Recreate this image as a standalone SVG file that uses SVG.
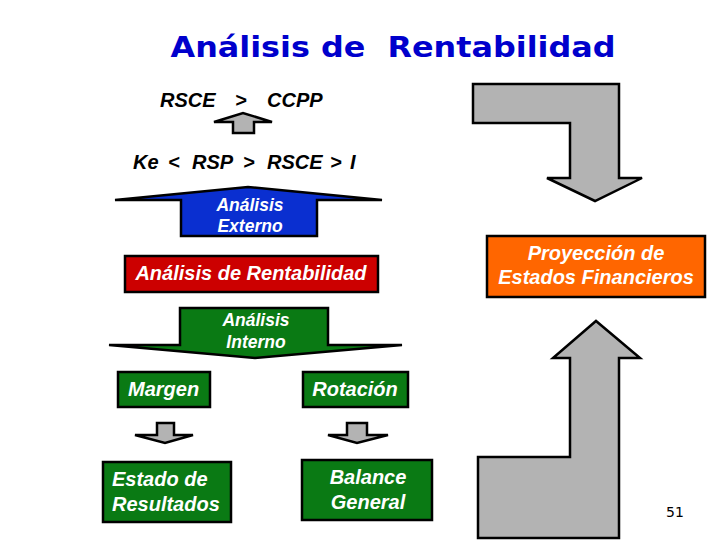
<svg xmlns="http://www.w3.org/2000/svg" width="728" height="546" viewBox="0 0 728 546">
<style>
.lbl{font-family:"Liberation Sans",Arial,sans-serif;font-weight:bold;font-style:italic;font-size:20px}
.sm{font-size:17.5px}
.w{fill:#ffffff}
.k{fill:#000000}
.box{stroke:#000;stroke-width:2.5}
.arr{stroke:#000;stroke-width:2.5;stroke-linejoin:miter}
</style>
<rect width="728" height="546" fill="#ffffff"/>
<text x="393" y="57" text-anchor="middle" font-family="'DejaVu Sans',Verdana,sans-serif" font-weight="bold" font-size="29" fill="#0000cc" textLength="445" lengthAdjust="spacingAndGlyphs" xml:space="preserve">Análisis de  Rentabilidad</text>

<g id="connectors">
  <path class="arr" fill="#b3b3b3" d="M233,133 L233,122 L214,122 L243,113 L272,122 L254,122 L254,133 Z"/>
  <path class="arr" fill="#b3b3b3" d="M157,423 L174,423 L174,435 L193,435 L165,443 L135,435 L157,435 Z"/>
  <path class="arr" fill="#b3b3b3" d="M347,423 L367,423 L367,435 L388,435 L357,443 L328,435 L347,435 Z"/>
  <path class="arr" fill="#b3b3b3" d="M473,84 L619,84 L619,178 L642,178 L595,201 L547,178 L570,178 L570,123 L473,123 Z"/>
  <path class="arr" fill="#b3b3b3" d="M478,538 L619,538 L619,358 L640,358 L596,321 L553,358 L570,358 L570,457 L478,457 Z"/>
</g>

<g id="rsce-ccpp">
  <text class="lbl k" y="107"><tspan x="160">RSCE</tspan><tspan x="235">&gt;</tspan><tspan x="267">CCPP</tspan></text>
</g>
<g id="ke-rsp">
  <text class="lbl k" y="169"><tspan x="133">Ke</tspan><tspan x="168">&lt;</tspan><tspan x="192">RSP</tspan><tspan x="243">&gt;</tspan><tspan x="267">RSCE</tspan><tspan x="330">&gt;</tspan><tspan x="350">I</tspan></text>
</g>

<g id="analisis-externo">
  <path class="arr" fill="#0a2fd0" d="M115,200 L248,187 L382,200 L317,200 L317,236 L181,236 L181,200 Z"/>
  <text class="lbl sm w" x="250" y="211" text-anchor="middle">Análisis</text>
  <text class="lbl sm w" x="250" y="232" text-anchor="middle">Externo</text>
</g>

<g id="analisis-rentabilidad">
  <rect class="box" x="125" y="256" width="253" height="36" fill="#cc0000"/>
  <text class="lbl w" x="251" y="280" text-anchor="middle">Análisis de Rentabilidad</text>
</g>

<g id="analisis-interno">
  <path class="arr" fill="#0a7a14" d="M180,308 L328,308 L328,345 L402,345 L255,358 L109,345 L180,345 Z"/>
  <text class="lbl sm w" x="256" y="326" text-anchor="middle">Análisis</text>
  <text class="lbl sm w" x="256" y="348" text-anchor="middle">Interno</text>
</g>

<g id="margen">
  <rect class="box" x="118" y="372" width="92" height="35" fill="#0a7a14"/>
  <text class="lbl w" x="128" y="396">Margen</text>
</g>
<g id="rotacion">
  <rect class="box" x="303" y="372" width="105" height="35" fill="#0a7a14"/>
  <text class="lbl w" x="355" y="396" text-anchor="middle">Rotación</text>
</g>

<g id="estado-resultados">
  <rect class="box" x="103" y="462" width="128" height="60" fill="#0a7a14"/>
  <text class="lbl w" x="112" y="486">Estado de</text>
  <text class="lbl w" x="112" y="511">Resultados</text>
</g>
<g id="balance-general">
  <rect class="box" x="302" y="460" width="130" height="60" fill="#0a7a14"/>
  <text class="lbl w" x="368" y="484" text-anchor="middle">Balance</text>
  <text class="lbl w" x="368" y="509" text-anchor="middle">General</text>
</g>

<g id="proyeccion">
  <rect class="box" x="487" y="236" width="218" height="61" fill="#ff6600"/>
  <text class="lbl w" x="596" y="260" text-anchor="middle">Proyección de</text>
  <text class="lbl w" x="596" y="284" text-anchor="middle">Estados Financieros</text>
</g>

<text x="675" y="517" text-anchor="middle" font-family="'DejaVu Sans',Verdana,sans-serif" font-size="14" fill="#000">51</text>
</svg>
